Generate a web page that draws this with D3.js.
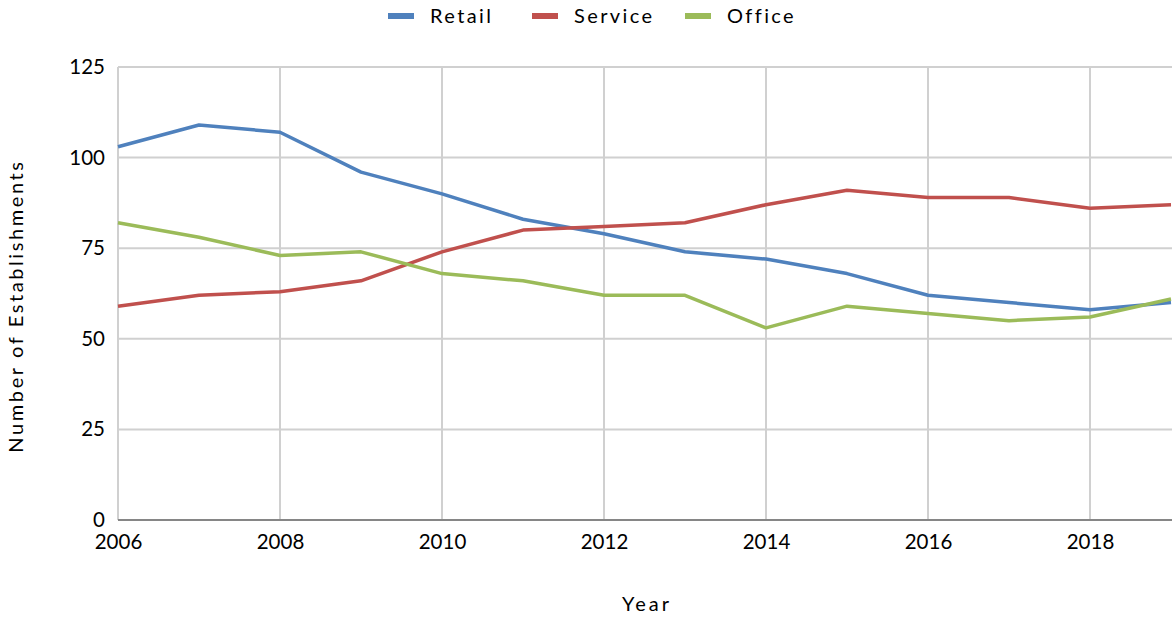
<!DOCTYPE html>
<html>
<head>
<meta charset="utf-8">
<script src="https://cdn.jsdelivr.net/npm/d3@7"></script>
<style>
  body { margin: 0; background: #fff; }
  svg { display: block; font-family: Lato, "Open Sans", sans-serif; }
</style>
</head>
<body>
<div id="chart"></div>
<script>
const years = [2006, 2007, 2008, 2009, 2010, 2011, 2012, 2013, 2014, 2015, 2016, 2017, 2018, 2019];
const retail = [103, 109, 107, 96, 90, 83, 79, 74, 72, 68, 62, 60, 58, 60];
const service = [59, 62, 63, 66, 74, 80, 81, 82, 87, 91, 89, 89, 86, 87];
const office = [82, 78, 73, 74, 68, 66, 62, 62, 53, 59, 57, 55, 56, 61];
const seriesNames = ['Retail', 'Service', 'Office'];
const seriesColors = ['#4F81BD', '#C0504D', '#9BBB59'];
const xTicks = [2006, 2008, 2010, 2012, 2014, 2016, 2018];
const yTicks = [0, 25, 50, 75, 100, 125];

const W = 1172, H = 619;
const svg = d3.select('#chart').append('svg').attr('width', W).attr('height', H);
const x = d3.scaleLinear().domain([2006, 2019]).range([118, 1171]);
const y = d3.scaleLinear().domain([0, 125]).range([520, 67]);

// gridlines
svg.append('g').selectAll('line').data(yTicks.filter(d => d > 0)).join('line')
  .attr('x1', 118).attr('x2', W).attr('y1', d => y(d)).attr('y2', d => y(d))
  .attr('stroke', '#d0d0d0').attr('stroke-width', 2);
svg.append('g').selectAll('line').data(xTicks).join('line')
  .attr('x1', d => x(d)).attr('x2', d => x(d)).attr('y1', y(125)).attr('y2', y(0))
  .attr('stroke', '#d0d0d0').attr('stroke-width', 2);

// axes
const xAxis = svg.append('g').attr('transform', `translate(0,${y(0)})`)
  .call(d3.axisBottom(x).tickValues(xTicks).tickFormat(d3.format('d')).tickSize(0).tickPadding(14));
xAxis.select('.domain').attr('stroke', '#868686').attr('stroke-width', 2).attr('d', `M118,0H${W}`);
xAxis.selectAll('text').attr('font-size', 20.5).attr('fill', '#000').attr('font-family', 'Lato, sans-serif');

const yAxis = svg.append('g').attr('transform', 'translate(118,0)')
  .call(d3.axisLeft(y).tickValues(yTicks).tickSize(0).tickPadding(13));
yAxis.select('.domain').remove();
yAxis.selectAll('text').attr('font-size', 20.5).attr('fill', '#000').attr('font-family', 'Lato, sans-serif');

// lines
const data = [retail, service, office];
const line = d3.line().x((d, i) => x(years[i])).y(d => y(d));
svg.append('g').selectAll('path').data(data).join('path')
  .attr('d', line).attr('fill', 'none')
  .attr('stroke', (d, i) => seriesColors[i]).attr('stroke-width', 3.5)
  .attr('stroke-linejoin', 'round');

// axis titles
svg.append('text').attr('x', 647).attr('y', 611).attr('text-anchor', 'middle')
  .attr('font-size', 20).attr('letter-spacing', 3).text('Year');
svg.append('text').attr('transform', 'translate(23,306) rotate(-90)').attr('text-anchor', 'middle')
  .attr('font-size', 20).attr('letter-spacing', 2.6).text('Number of Establishments');

// legend
const legendX = [388, 532, 685];
const lg = svg.append('g').selectAll('g').data(seriesNames).join('g')
  .attr('transform', (d, i) => `translate(${legendX[i]},16)`);
lg.append('rect').attr('x', 0).attr('y', -3).attr('width', 26).attr('height', 6)
  .attr('fill', (d, i) => seriesColors[i]);
lg.append('text').attr('x', 42).attr('y', 7).attr('font-size', 20).attr('letter-spacing', 2.4)
  .text(d => d);
</script>
</body>
</html>
